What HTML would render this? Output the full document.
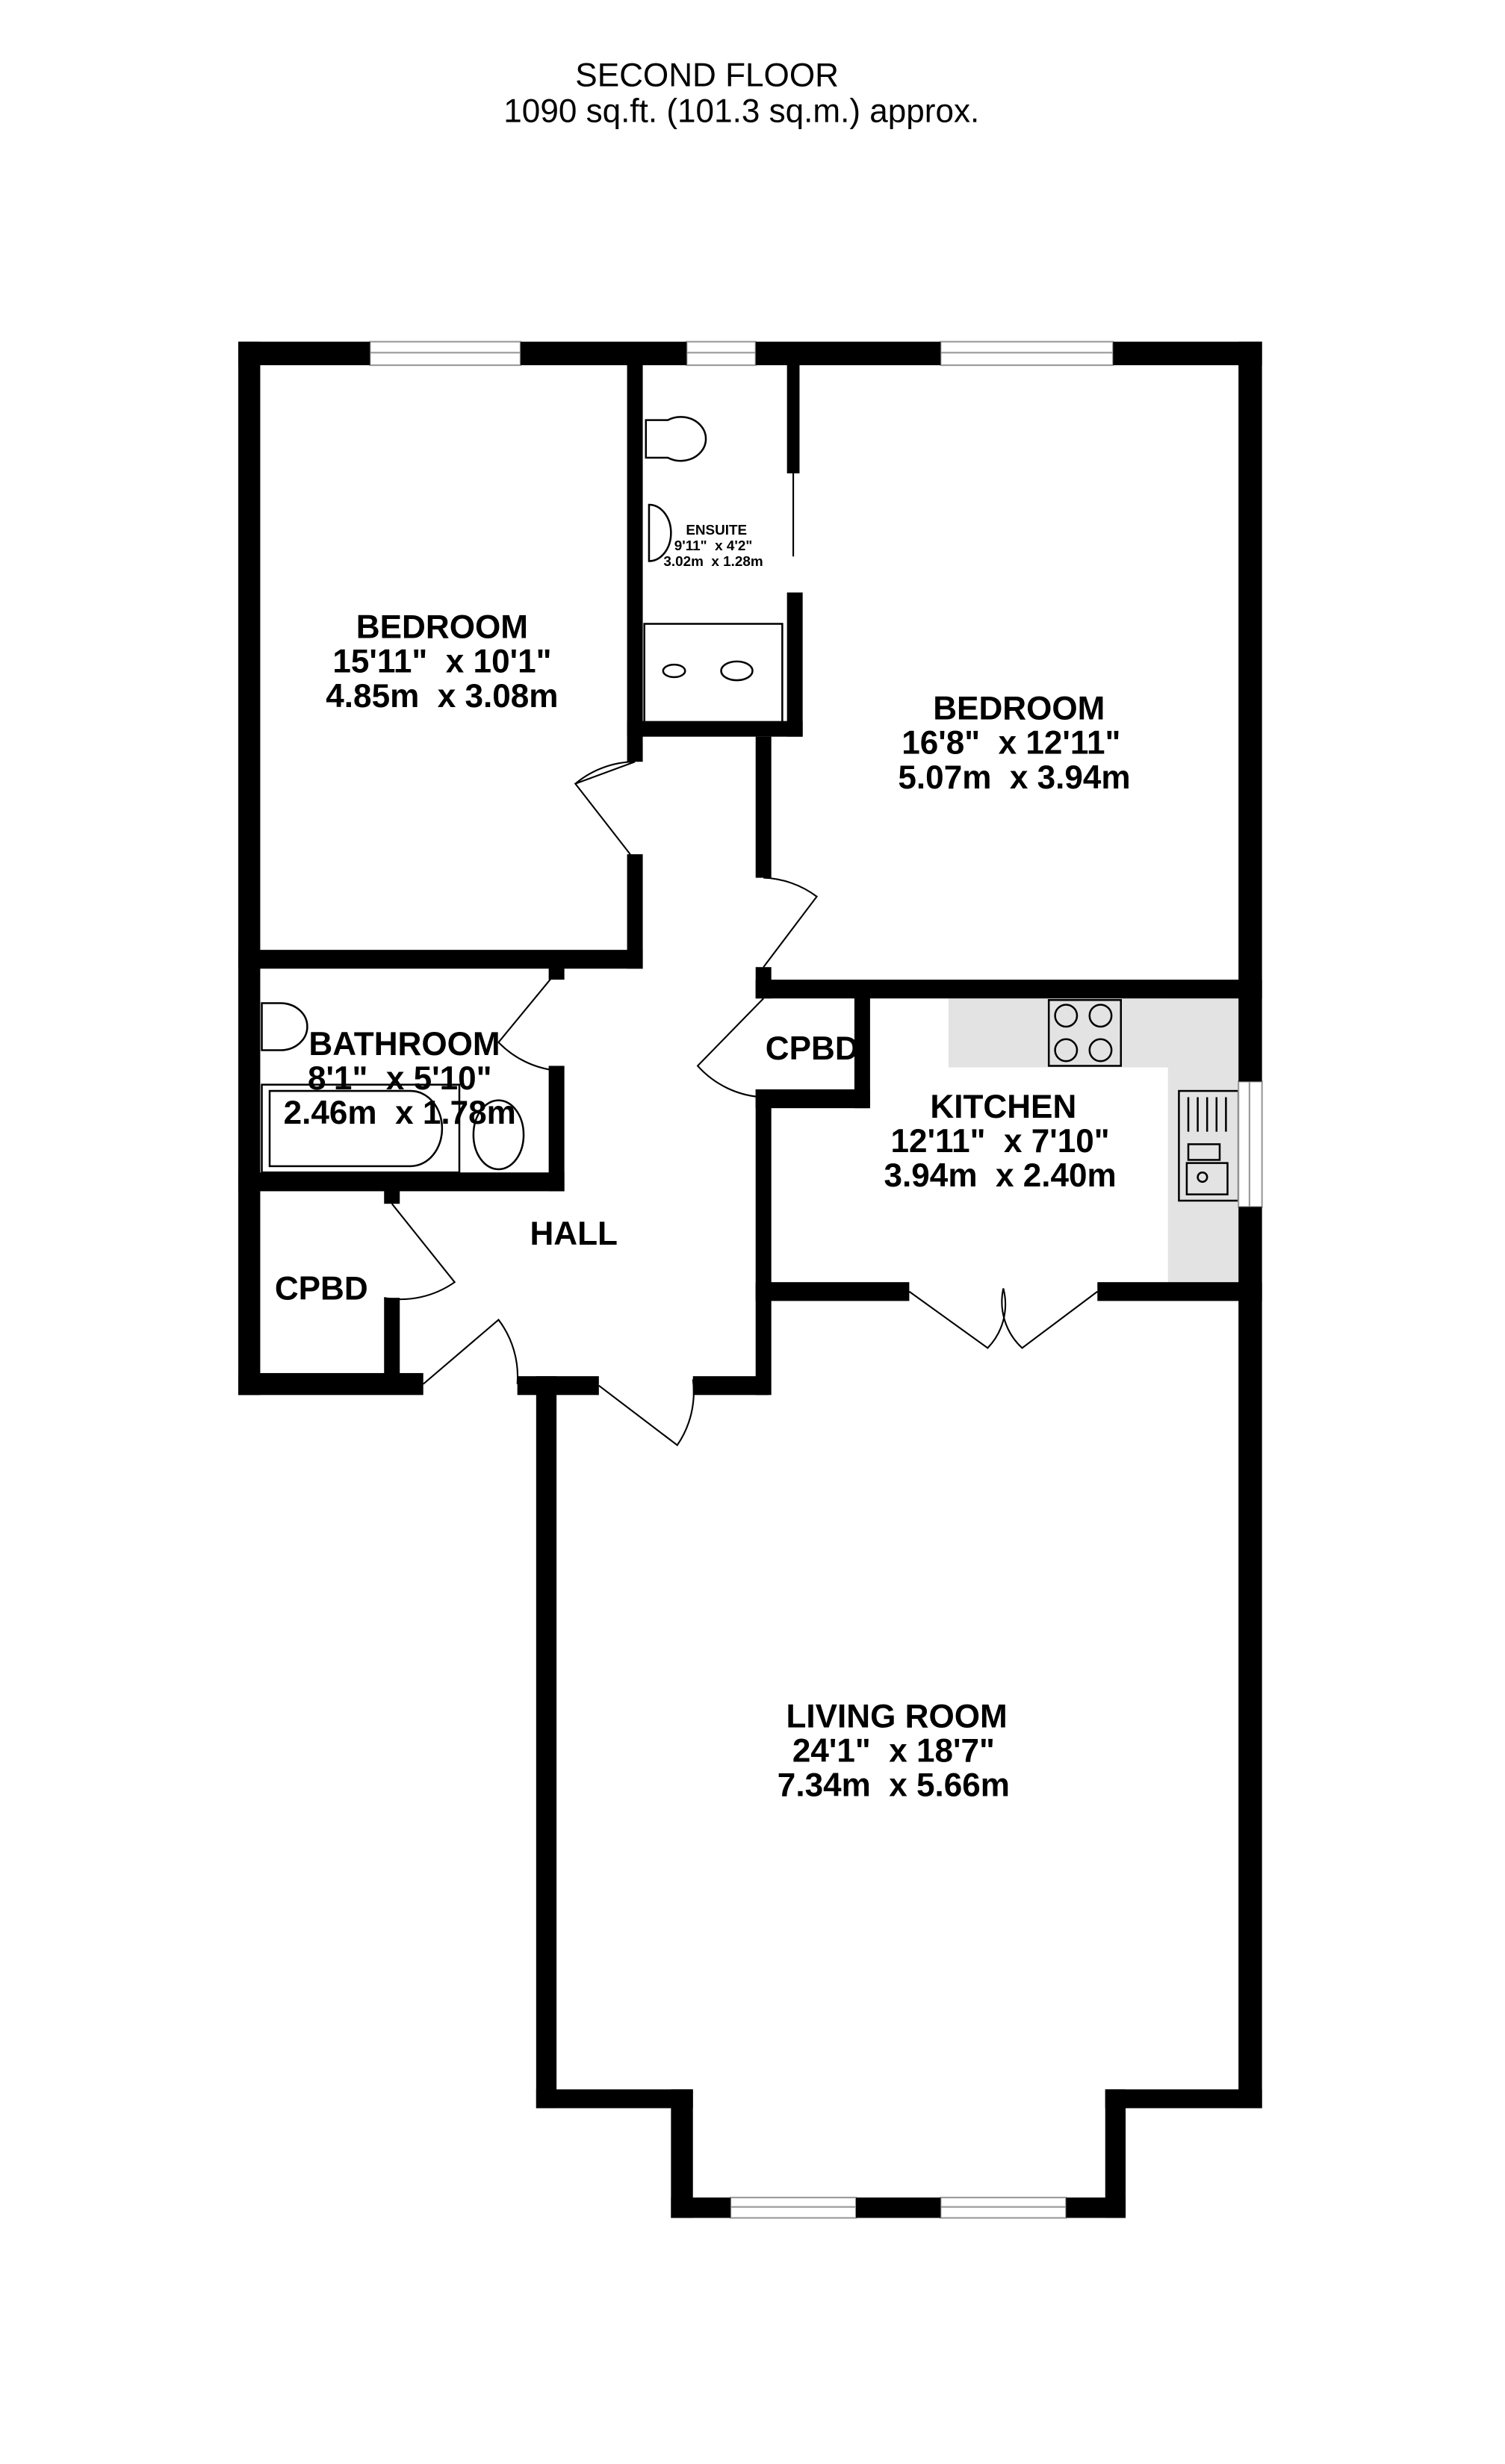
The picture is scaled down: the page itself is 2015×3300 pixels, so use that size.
<!DOCTYPE html>
<html><head><meta charset="utf-8"><style>
html,body{margin:0;padding:0;background:#fff}
svg{display:block}
text{font-family:"Liberation Sans",sans-serif;text-anchor:middle;white-space:pre}
.b{font-weight:bold;font-size:21px}
</style></head><body>
<svg width="2015" height="3300" viewBox="0 0 960 1572" preserveAspectRatio="none" xmlns="http://www.w3.org/2000/svg">
<rect width="960" height="1572" fill="#fff"/>
<text x="451" y="55" font-size="21">SECOND FLOOR</text>
<text x="473" y="78" font-size="21">1090 sq.ft. (101.3 sq.m.) approx.</text>

<g fill="#e3e3e3">
<rect x="605" y="637" width="185" height="44"/>
<rect x="745" y="637" width="45" height="181"/>
</g>
<g fill="none" stroke="#000" stroke-width="1.2">
<rect x="669" y="638" width="46" height="42"/>
<circle cx="680" cy="648" r="7"/><circle cx="702" cy="648" r="7"/>
<circle cx="680" cy="670" r="7"/><circle cx="702" cy="670" r="7"/>
<rect x="752" y="696" width="38" height="70"/>
<line x1="758" y1="700" x2="758" y2="722"/><line x1="764" y1="700" x2="764" y2="722"/><line x1="770" y1="700" x2="770" y2="722"/><line x1="776" y1="700" x2="776" y2="722"/><line x1="782" y1="700" x2="782" y2="722"/>
<rect x="758" y="730" width="20" height="10"/>
<rect x="757" y="742" width="26" height="20"/>
<circle cx="767" cy="751" r="3"/>
<path d="M412 268 h14 a16 14 0 1 1 0 24 h-14 z"/>
<path d="M414 322 a14 18 0 1 1 0 36 z"/>
<rect x="411" y="398" width="88" height="64"/>
<ellipse cx="430" cy="428" rx="7" ry="4"/>
<ellipse cx="470" cy="428" rx="10" ry="6"/>
<path d="M167 640 h12 a17 15 0 1 1 0 30 h-12 z"/>
<rect x="167" y="692" width="126" height="56"/>
<path d="M172 696 h90 a20 24 0 0 1 0 48 h-90 z"/>
<ellipse cx="318" cy="724" rx="16" ry="22"/>
</g>

<g fill="#fff" stroke="#999" stroke-width="1">
<rect x="236" y="218" width="96" height="15"/><line x1="236" y1="225" x2="332" y2="225"/>
<rect x="438" y="218" width="44" height="15"/><line x1="438" y1="225" x2="482" y2="225"/>
<rect x="600" y="218" width="110" height="15"/><line x1="600" y1="225" x2="710" y2="225"/>
<rect x="790" y="690" width="15" height="80"/><line x1="797" y1="690" x2="797" y2="770"/>
<rect x="466" y="1402" width="80" height="13"/><line x1="466" y1="1408" x2="546" y2="1408"/>
<rect x="600" y="1402" width="80" height="13"/><line x1="600" y1="1408" x2="680" y2="1408"/>
</g>

<g fill="#000">
<rect x="152" y="218" width="84" height="15"/>
<rect x="332" y="218" width="106" height="15"/>
<rect x="482" y="218" width="118" height="15"/>
<rect x="710" y="218" width="95" height="15"/>
<rect x="152" y="218" width="14" height="672"/>
<rect x="790" y="218" width="15" height="472"/>
<rect x="790" y="770" width="15" height="575"/>
<rect x="400" y="232" width="10" height="254"/>
<rect x="400" y="545" width="10" height="73"/>
<rect x="152" y="606" width="258" height="12"/>
<rect x="400" y="460" width="112" height="10"/>
<rect x="502" y="232" width="8" height="70"/>
<rect x="502" y="378" width="10" height="92"/>
<rect x="482" y="470" width="10" height="90"/>
<rect x="482" y="617" width="10" height="20"/>
<rect x="482" y="625" width="323" height="12"/>
<rect x="545" y="630" width="10" height="77"/>
<rect x="482" y="695" width="73" height="12"/>
<rect x="482" y="695" width="10" height="195"/>
<rect x="482" y="818" width="98" height="12"/>
<rect x="700" y="818" width="105" height="12"/>
<rect x="442" y="878" width="48" height="12"/>
<rect x="330" y="878" width="52" height="12"/>
<rect x="342" y="878" width="13" height="467"/>
<rect x="342" y="1333" width="100" height="12"/>
<rect x="705" y="1333" width="100" height="12"/>
<rect x="428" y="1333" width="14" height="82"/>
<rect x="705" y="1333" width="13" height="82"/>
<rect x="428" y="1402" width="38" height="13"/>
<rect x="546" y="1402" width="54" height="13"/>
<rect x="680" y="1402" width="38" height="13"/>
<rect x="350" y="617" width="10" height="8"/>
<rect x="350" y="680" width="10" height="80"/>
<rect x="152" y="748" width="208" height="12"/>
<rect x="245" y="758" width="10" height="10"/>
<rect x="245" y="828" width="10" height="55"/>
<rect x="152" y="876" width="118" height="14"/>
</g>

<g fill="none" stroke="#000" stroke-width="1">
<path d="M405 486 L367 500 L402 545"/><path d="M405 486 A60 60 0 0 0 367 500"/>
<path d="M487 560 A60 60 0 0 1 521 572 L487 617"/>
<path d="M487 637 L445 680 A60 60 0 0 0 487 700"/>
<path d="M355 620 L318 665 A60 60 0 0 0 355 683"/>
<path d="M250 768 L290 818 A60 60 0 0 1 245 828"/>
<path d="M270 883 L318 842 A60 60 0 0 1 330 883"/>
<path d="M382 884 L432 922 A60 60 0 0 0 442 880"/>
<path d="M580 824 L630 860 A40 40 0 0 0 640 822 A40 40 0 0 0 652 860 L700 824"/>
<line x1="506" y1="302" x2="506" y2="355"/>
</g>

<g class="b">
<text x="282" y="407">BEDROOM</text>
<text x="282" y="429">15'11"  x 10'1"</text>
<text x="282" y="451">4.85m  x 3.08m</text>
<text x="650" y="459">BEDROOM</text>
<text x="645" y="481">16'8"  x 12'11"</text>
<text x="647" y="503">5.07m  x 3.94m</text>
<text x="258" y="673">BATHROOM</text>
<text x="255" y="695">8'1"  x 5'10"</text>
<text x="255" y="717">2.46m  x 1.78m</text>
<text x="518" y="676">CPBD</text>
<text x="640" y="713">KITCHEN</text>
<text x="638" y="735">12'11"  x 7'10"</text>
<text x="638" y="757">3.94m  x 2.40m</text>
<text x="366" y="794">HALL</text>
<text x="205" y="829">CPBD</text>
<text x="572" y="1102">LIVING ROOM</text>
<text x="570" y="1124">24'1"  x 18'7"</text>
<text x="570" y="1146">7.34m  x 5.66m</text>
</g>
<g font-weight="bold" font-size="9">
<text x="457" y="341">ENSUITE</text>
<text x="455" y="351">9'11"  x 4'2"</text>
<text x="455" y="361">3.02m  x 1.28m</text>
</g>
</svg>
</body></html>
